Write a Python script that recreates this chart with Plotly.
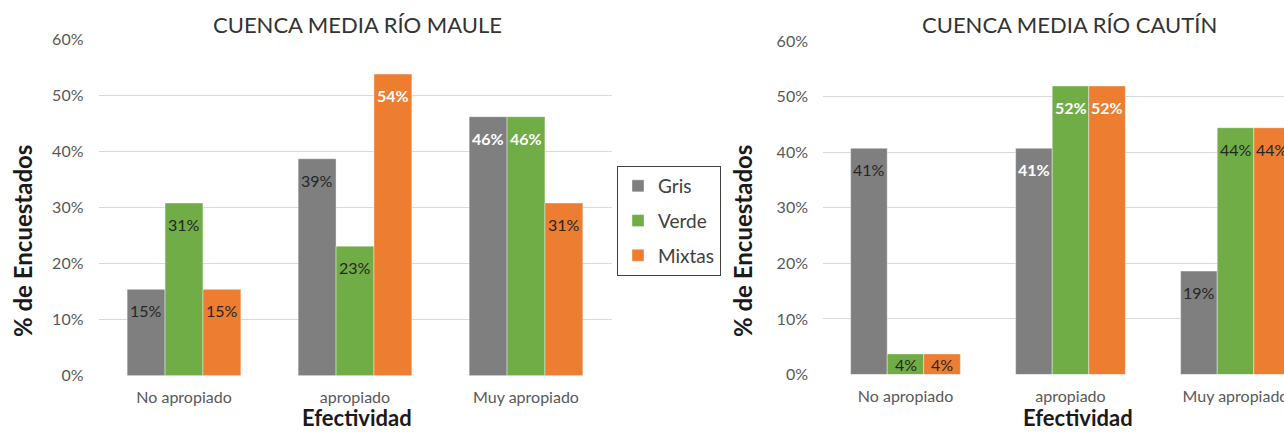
import plotly.graph_objects as go

# Survey results: share of respondents rating each type of measure
categorias = ["No apropiado", "apropiado", "Muy apropiado"]
series = ["Gris", "Verde", "Mixtas"]

maule_gris = [0.154, 0.387, 0.462]
maule_verde = [0.308, 0.231, 0.462]
maule_mixtas = [0.154, 0.538, 0.308]

cautin_gris = [0.407, 0.407, 0.186]
cautin_verde = [0.037, 0.519, 0.444]
cautin_mixtas = [0.037, 0.519, 0.444]

y_ticks = [0, 0.1, 0.2, 0.3, 0.4, 0.5, 0.6]

# Styling
colores = {"Gris": "#7f7f7f", "Verde": "#70ad47", "Mixtas": "#ed7d31"}
DARK = "#262626"
WHITE = "#ffffff"
label_colors_maule = {
    "Gris": [DARK, DARK, WHITE],
    "Verde": [DARK, DARK, WHITE],
    "Mixtas": [DARK, WHITE, DARK],
}
label_colors_cautin = {
    "Gris": [DARK, WHITE, DARK],
    "Verde": [DARK, WHITE, DARK],
    "Mixtas": [DARK, WHITE, DARK],
}

FONT = "Lato"
W, H = 1284, 432
BARGAP = 0.335

# Plot-area geometry (pixels)
left_px = (98.5, 611.5)
left_py = (39.3, 375.7)
right_px = (823.0, 1284.0)
right_py = (41.0, 374.5)
right_cat_step = 165.0

fig = go.Figure()

maule = {"Gris": maule_gris, "Verde": maule_verde, "Mixtas": maule_mixtas}
cautin = {"Gris": cautin_gris, "Verde": cautin_verde, "Mixtas": cautin_mixtas}

for name in series:
    fig.add_trace(go.Bar(
        x=categorias, y=maule[name], name=name, legendgroup=name,
        marker=dict(color=colores[name], line=dict(color="rgba(255,255,255,0.5)", width=0.8)),
        xaxis="x", yaxis="y", hoverinfo="skip",
    ))
for name in series:
    fig.add_trace(go.Bar(
        x=categorias, y=cautin[name], name=name, legendgroup=name, showlegend=False,
        marker=dict(color=colores[name], line=dict(color="rgba(255,255,255,0.5)", width=0.8)),
        xaxis="x2", yaxis="y2", hoverinfo="skip",
    ))

# Data labels placed just inside the top of each bar
annotations = []
bar_w = (1 - BARGAP) / len(series)


def pct(v):
    return f"{int(v * 100 + 0.5)}%"


def add_labels(data, colors, xref, yref, py):
    px_per_unit = (py[1] - py[0]) / 0.6
    for i, name in enumerate(series):
        off = (i - 1) * bar_w
        for j, v in enumerate(data[name]):
            h = v * px_per_unit
            c = colors[name][j]
            txt = f"<b>{pct(v)}</b>" if c == WHITE else pct(v)
            annotations.append(dict(
                x=j + off, y=v, xref=xref, yref=yref,
                text=txt, showarrow=False,
                yanchor="middle", xanchor="center",
                yshift=-min(21.5, h / 2),
                font=dict(family=FONT, size=16, color=c),
            ))


add_labels(maule, label_colors_maule, "x", "y", left_py)
add_labels(cautin, label_colors_cautin, "x2", "y2", right_py)

# Chart and axis titles
TITLE_C = "#333333"
for text, cx in [("CUENCA MEDIA RÍO MAULE", 357), ("CUENCA MEDIA RÍO CAUTÍN", 1069)]:
    annotations.append(dict(x=cx / W, y=1 - 24 / H, xref="paper", yref="paper",
                            text=text, showarrow=False, xanchor="center", yanchor="middle",
                            font=dict(family=FONT, size=22, color=TITLE_C)))
for cx in (22, 742):
    annotations.append(dict(x=cx / W, y=1 - 241 / H, xref="paper", yref="paper",
                            text="<b>% de Encuestados</b>", showarrow=False, textangle=-90,
                            xanchor="center", yanchor="middle",
                            font=dict(family=FONT, size=24, color="#1a1a1a")))
for cx in (357, 1078):
    annotations.append(dict(x=cx / W, y=0, xref="paper", yref="paper",
                            text="<b>Efectividad</b>", showarrow=False,
                            xanchor="center", yanchor="bottom", yshift=-1,
                            font=dict(family=FONT, size=22, color="#1a1a1a")))

TICK_FONT = dict(family=FONT, size=16, color="#595959")
GRID = "#d9d9d9"

yaxis_common = dict(range=[0, 0.6], tickvals=y_ticks, tickformat=".0%",
                    showgrid=True, gridcolor=GRID, gridwidth=1.2, zeroline=False,
                    showline=False, ticks="", tickfont=TICK_FONT, ticklabelstandoff=14,
                    fixedrange=True, automargin=False)
xaxis_common = dict(type="category", showgrid=False, zeroline=False, showline=False,
                    ticks="", tickfont=TICK_FONT, ticklabelstandoff=10, fixedrange=True,
                    automargin=False)

fig.update_layout(
    width=W, height=H,
    margin=dict(l=0, r=0, t=0, b=0, pad=0, autoexpand=False),
    paper_bgcolor="white", plot_bgcolor="white",
    barmode="group", bargap=BARGAP, bargroupgap=0,
    xaxis=dict(domain=[left_px[0] / W, left_px[1] / W], range=[-0.5, 2.5],
               anchor="y", **xaxis_common),
    yaxis=dict(domain=[1 - left_py[1] / H, 1 - left_py[0] / H], anchor="x", **yaxis_common),
    xaxis2=dict(domain=[right_px[0] / W, 1.0],
                range=[-0.5, -0.5 + (right_px[1] - right_px[0]) / right_cat_step],
                anchor="y2", **xaxis_common),
    yaxis2=dict(domain=[1 - right_py[1] / H, 1 - right_py[0] / H], anchor="x2", **yaxis_common),
    legend=dict(x=617 / W, y=1 - 166 / H, xanchor="left", yanchor="top",
                bordercolor="#404040", borderwidth=1, bgcolor="white",
                font=dict(family=FONT, size=19, color="#404040"),
                tracegroupgap=7, traceorder="grouped"),
    annotations=annotations,
    showlegend=True,
)

fig.write_html("out.html")
